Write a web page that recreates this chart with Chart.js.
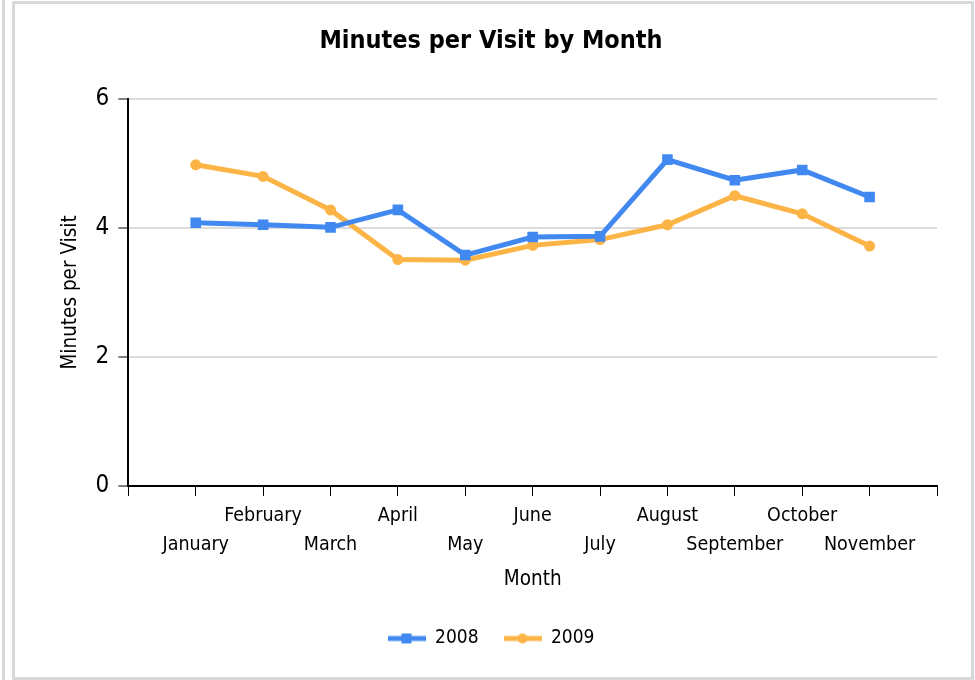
<!DOCTYPE html>
<html>
<head>
<meta charset="utf-8">
<script src="https://cdn.jsdelivr.net/npm/chart.js@4/dist/chart.umd.min.js"></script>
<style>
    html, body { margin: 0; padding: 0; background: #fff; }
    #wrap { position: relative; width: 975px; height: 680px; }
    #chart { position: absolute; left: 0; top: 0; }
    .frame { position: absolute; border: 3px solid #d9d9d9; pointer-events: none; box-sizing: border-box; }
</style>
</head>
<body>
<div id="wrap">
    <canvas id="chart" width="975" height="680"></canvas>
    <div class="frame" style="left:12px; top:1px; width:962px; height:679px;"></div>
    <div class="frame" style="left:2px; top:0; width:3px; height:680px; border-width:0 0 0 3px;"></div>
</div>
<script>
// Minutes per Visit by Month

const FONT = '"DejaVu Sans Condensed", "DejaVu Sans", sans-serif';

// Data
const months = ['January', 'February', 'March', 'April', 'May', 'June',
    'July', 'August', 'September', 'October', 'November'];
const visits2008 = [4.08, 4.05, 4.01, 4.28, 3.58, 3.86, 3.87, 5.06, 4.74, 4.90, 4.48];
const visits2009 = [4.98, 4.80, 4.28, 3.51, 3.50, 3.73, 3.82, 4.05, 4.50, 4.22, 3.72];
const yTicks = [0, 2, 4, 6];

const BLUE = '#4189f1';
const ORANGE = '#fdb446';

// Empty slot on each side so the months sit one step in from the axis ends
const labels = [''].concat(months, ['']);
const pad = (arr) => [null].concat(arr, [null]);

// Legend icons: line with the series marker in the middle
function legendIcon(color, marker) {
    const c = document.createElement('canvas');
    c.width = 38;
    c.height = 12;
    const g = c.getContext('2d');
    g.strokeStyle = color;
    g.lineWidth = 5;
    g.beginPath();
    g.moveTo(0, 6);
    g.lineTo(38, 6);
    g.stroke();
    g.fillStyle = color;
    if (marker === 'rect') {
        g.fillRect(14, 1, 10, 10);
    } else {
        g.beginPath();
        g.arc(19, 6, 5, 0, Math.PI * 2);
        g.fill();
    }
    return c;
}
const icons = [legendIcon(BLUE, 'rect'), legendIcon(ORANGE, 'circle')];

const ctx = document.getElementById('chart').getContext('2d');
const chart = new Chart(ctx, {
    type: 'line',
    data: {
        labels: labels,
        datasets: [{
            label: '2008',
            data: pad(visits2008),
            borderColor: BLUE,
            backgroundColor: BLUE,
            borderWidth: 5,
            pointStyle: 'rect',
            pointRadius: 7.5,
            pointBorderWidth: 0,
            tension: 0
        }, {
            label: '2009',
            data: pad(visits2009),
            borderColor: ORANGE,
            backgroundColor: ORANGE,
            borderWidth: 5,
            pointStyle: 'circle',
            pointRadius: 5.5,
            pointBorderWidth: 0,
            tension: 0
        }]
    },
    options: {
        responsive: false,
        animation: false,
        layout: {
            padding: { left: 45, right: 38, top: 20, bottom: 22 }
        },
        scales: {
            x: {
                type: 'category',
                offset: false,
                border: { color: '#000', width: 2 },
                grid: {
                    drawOnChartArea: false,
                    drawTicks: true,
                    tickLength: 10,
                    tickColor: '#000',
                    tickWidth: 1
                },
                ticks: {
                    autoSkip: false,
                    maxRotation: 0,
                    minRotation: 0,
                    padding: 5,
                    color: '#000',
                    font: { family: FONT, size: 19.5, lineHeight: 1.5 },
                    callback: function (value, index) {
                        const name = labels[index];
                        if (!name) return '';
                        // months alternate between a lower and an upper row
                        return (index % 2 === 1) ? ['', name] : [name, ''];
                    }
                },
                title: {
                    display: true,
                    text: 'Month',
                    color: '#000',
                    font: { family: FONT, size: 20.5 },
                    padding: { top: 3, bottom: 12 }
                }
            },
            y: {
                min: 0,
                max: 6,
                border: { color: '#000', width: 2 },
                grid: {
                    color: '#dcdcdc',
                    lineWidth: 2,
                    tickLength: 10,
                    tickColor: '#000',
                    tickWidth: 1
                },
                afterBuildTicks: (axis) => {
                    axis.ticks = yTicks.map(v => ({ value: v }));
                },
                ticks: {
                    padding: 9,
                    color: '#000',
                    font: { family: FONT, size: 24 }
                },
                title: {
                    display: true,
                    text: 'Minutes per Visit',
                    color: '#000',
                    font: { family: FONT, size: 20.5 },
                    padding: { top: 13, bottom: 4 }
                }
            }
        },
        plugins: {
            title: {
                display: true,
                text: 'Minutes per Visit by Month',
                color: '#000',
                font: { family: FONT, size: 25, weight: 'bold' },
                padding: { top: 6, bottom: 43 }
            },
            legend: {
                position: 'bottom',
                labels: {
                    usePointStyle: true,
                    pointStyleWidth: 38,
                    padding: 25,
                    color: '#000',
                    font: { family: FONT, size: 19 },
                    generateLabels: (c) => c.data.datasets.map((ds, i) => ({
                        text: ds.label,
                        pointStyle: icons[i],
                        fillStyle: ds.borderColor,
                        strokeStyle: ds.borderColor,
                        lineWidth: 0,
                        hidden: false,
                        datasetIndex: i,
                        fontColor: '#000'
                    }))
                }
            },
            tooltip: { enabled: false }
        }
    }
});

console.log('chartArea', JSON.stringify(chart.chartArea));
</script>
</body>
</html>
